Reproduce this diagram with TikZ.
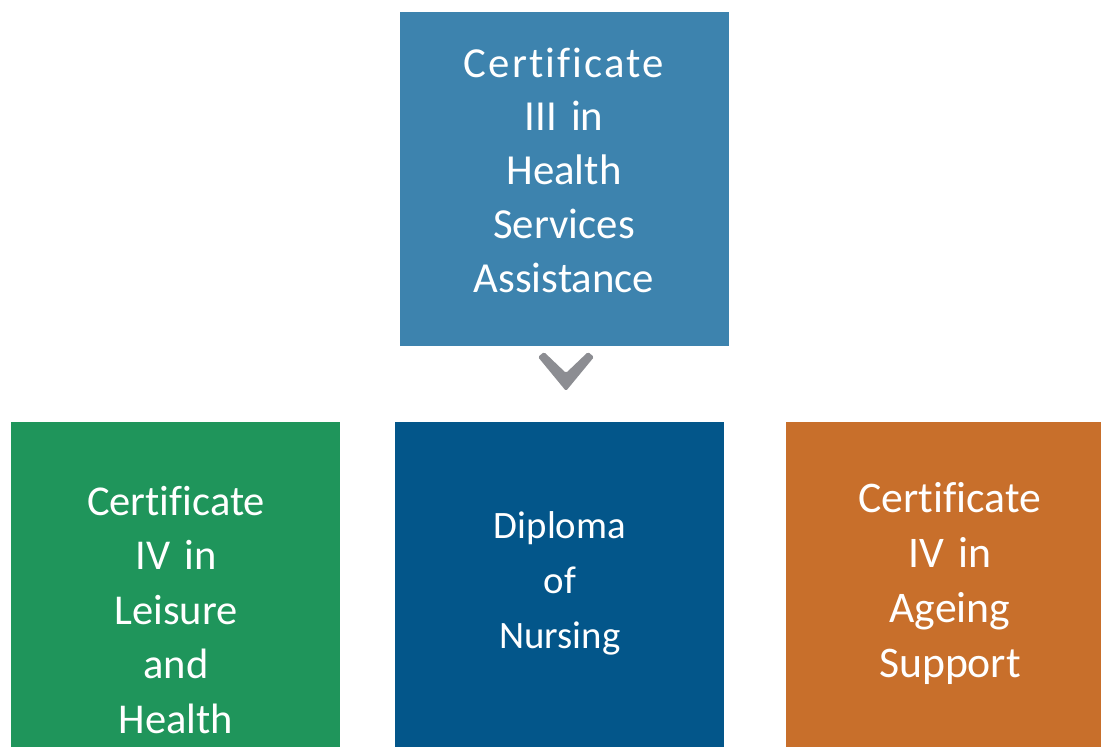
\documentclass[tikz,border=0pt]{standalone}
\usepackage{fontspec}
\setmainfont{Carlito}[Ligatures=NoCommon]
\newfontfamily\widecert{Carlito}[Ligatures=NoCommon, LetterSpace=5]
\definecolor{topblue}{HTML}{3D83AE}
\definecolor{leafgreen}{HTML}{1F955B}
\definecolor{navyblue}{HTML}{03568A}
\definecolor{burntorange}{HTML}{C86F2B}
\definecolor{chevgray}{HTML}{8C8D92}
\begin{document}
\begin{tikzpicture}[x=1pt,y=-1pt]
\tikzset{
  box/.style={draw=none, minimum width=329pt, minimum height=334pt, inner sep=0pt, anchor=north west},
  lbl/.style={text=white, align=center, text width=320pt, anchor=base, inner sep=0pt}
}
\useasboundingbox (0,0) rectangle (1101,747);
\clip (0,0) rectangle (1101,747);
\node[box, fill=topblue] (top) at (400,12) {};
\node[box, fill=leafgreen] (leisure) at (11,422) {};
\node[box, fill=navyblue] (nursing) at (395,422) {};
\node[box, fill=burntorange] (ageing) at (786,422) {};
\node[lbl, font=\fontsize{42.8}{53.75}\selectfont] (toptext) at (564,77) {{\widecert Certificate}\\III in\\Health\\Services\\Assistance};
\node[lbl, font=\fontsize{42.5}{54.5}\selectfont] (leisuretext) at (176,515) {Certificate\\IV in\\Leisure\\and\\Health};
\node[lbl, font=\fontsize{38.8}{55}\selectfont] (nursingtext) at (560,538) {Diploma\\of\\Nursing};
\node[lbl, font=\fontsize{43.7}{55}\selectfont] (ageingtext) at (950,512) {Certificate\\IV in\\Ageing\\Support};
\fill[chevgray, rounded corners=1.5pt] (538,357) -- (544,352) -- (566,373) -- (588,352) -- (594,357) -- (566,391) -- cycle;
\end{tikzpicture}
\end{document}
